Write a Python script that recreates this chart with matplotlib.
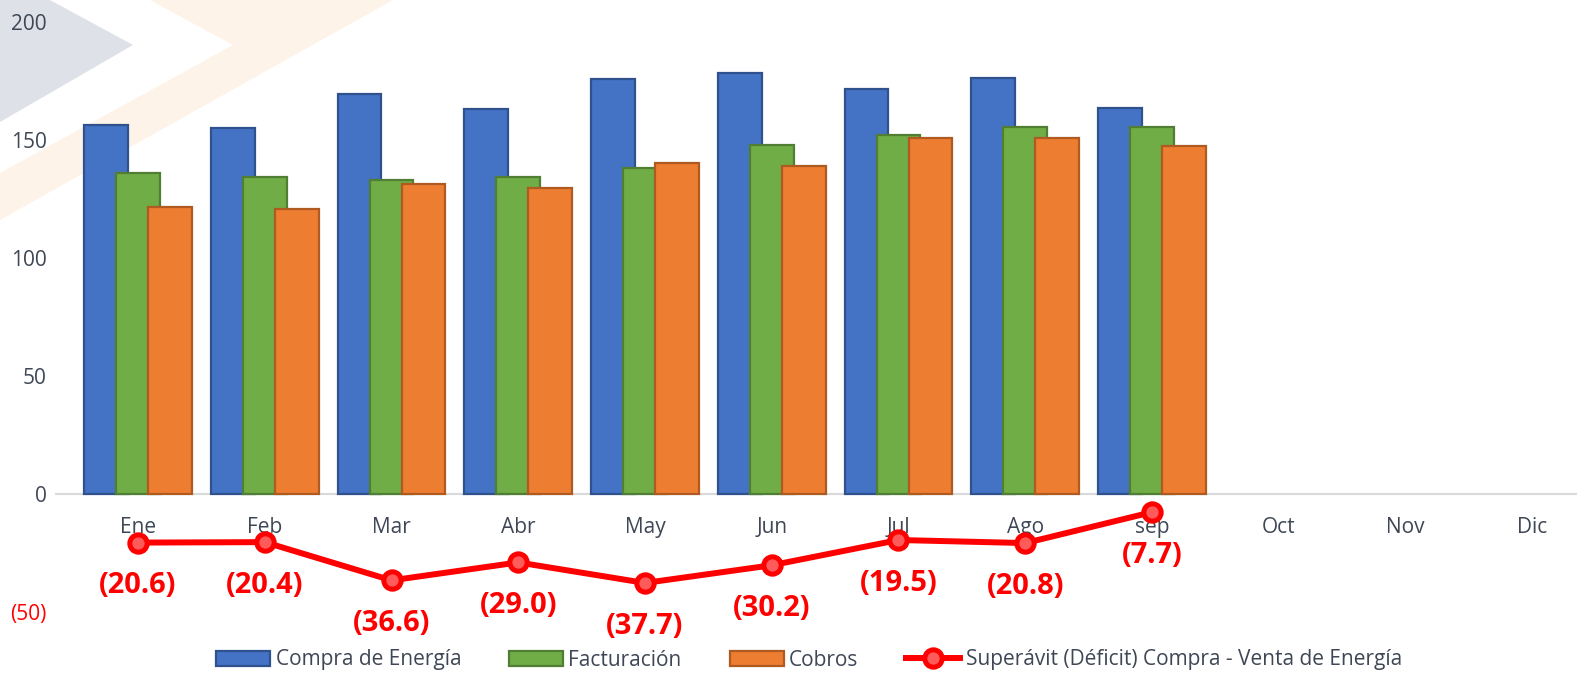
import numpy as np
import matplotlib.pyplot as plt
from matplotlib.patches import Polygon

plt.rcParams['font.family'] = ['Open Sans', 'DejaVu Sans']

# datos
meses = ['Ene', 'Feb', 'Mar', 'Abr', 'May', 'Jun', 'Jul', 'Ago', 'sep', 'Oct', 'Nov', 'Dic']
compra = [156.4, 154.9, 169.4, 163.3, 175.7, 178.2, 171.8, 176.1, 163.4]
facturacion = [135.9, 134.5, 132.9, 134.3, 138.0, 148.0, 152.2, 155.3, 155.6]
cobros = [121.7, 120.6, 131.5, 129.7, 140.3, 139.0, 150.9, 150.9, 147.6]
superavit = [-20.6, -20.4, -36.6, -29.0, -37.7, -30.2, -19.5, -20.8, -7.7]

W, H = 1577, 675
gris_txt = '#3F4756'
fig = plt.figure(figsize=(W / 100, H / 100), dpi=100)

# fondo decorativo (triángulo gris y chevron naranja)
def px(pts):
    return [(x / W, 1 - y / H) for x, y in pts]

fig.add_artist(Polygon(px([(0, 0), (50, 0), (133, 45), (0, 122)]),
                       closed=True, transform=fig.transFigure,
                       facecolor='#DEE1E7', edgecolor='none', zorder=-5))
fig.add_artist(Polygon(px([(150, 0), (393, 0), (0, 220), (0, 173), (233, 45)]),
                       closed=True, transform=fig.transFigure,
                       facecolor='#FEF3E8', edgecolor='none', zorder=-5))

ax = fig.add_axes([55 / W, 0, 1 - 55 / W, 1])
ax.patch.set_facecolor('none')

x = np.arange(len(compra))
ancho = 0.347
off = 0.2525

ax.bar(x - off, compra, ancho, color='#4472C4', edgecolor='#2F528F', linewidth=1.6,
       label='Compra de Energía', zorder=2)
ax.bar(x, facturacion, ancho, color='#70AD47', edgecolor='#507E32', linewidth=1.6,
       label='Facturación', zorder=3)
ax.bar(x + off, cobros, ancho, color='#ED7D31', edgecolor='#AE5A21', linewidth=1.6,
       label='Cobros', zorder=4)

ax.axhline(0, color='#D9D9D9', linewidth=1.5, zorder=1)

# etiquetas de meses bajo el eje
for i, m in enumerate(meses):
    ax.text(i, -16.5, m, ha='center', va='baseline', fontsize=15, color=gris_txt, zorder=5)

ax.plot(x, superavit, color='#FF0000', linewidth=4.3, marker='o', markersize=12.5,
        markerfacecolor='#FF5B5B', markeredgecolor='#FF0000', markeredgewidth=3.6,
        label='Superávit (Déficit) Compra - Venta de Energía', zorder=6)

for xi, v in zip(x, superavit):
    ax.annotate('({:.1f})'.format(abs(v)), (xi, v), xytext=(0, -31), textcoords='offset points',
                ha='center', va='center', fontsize=21, fontweight='bold', color='#FF0000', zorder=7)

ax.set_xlim((55 - 138) / 126.75, (W - 138) / 126.75)
ax.set_ylim(-76.7, 209.3)
ax.set_xticks([])
ax.set_yticks([-50, 0, 50, 100, 150, 200])
ax.set_yticklabels(['(50)', '0', '50', '100', '150', '200'])
ax.tick_params(axis='y', length=0, pad=6, labelsize=15, labelcolor=gris_txt)
ax.get_yticklabels()[0].set_color('#FF0000')
for s in ax.spines.values():
    s.set_visible(False)

h, l = ax.get_legend_handles_labels()
orden = [1, 2, 3, 0]
fig.legend([h[i] for i in orden], [l[i] for i in orden], loc='center',
           bbox_to_anchor=(809 / W, 1 - 660 / H), ncol=4, frameon=False,
           fontsize=15, labelcolor=gris_txt, handlelength=2.6, handletextpad=0.25,
           columnspacing=2.3, borderpad=0)

fig.savefig('out.png', dpi=100)
